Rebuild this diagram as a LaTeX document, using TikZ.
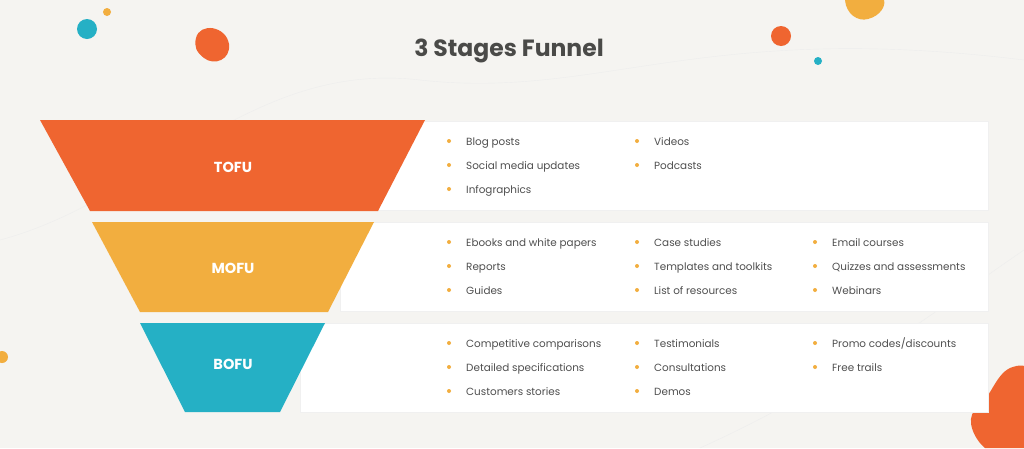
\documentclass[tikz,border=0pt]{standalone}
\usepackage{fontspec}
\setmainfont{Poppins}
\usetikzlibrary{positioning}
\definecolor{bgray}{HTML}{F5F4F1}
\definecolor{tofu}{HTML}{EF6530}
\definecolor{mofu}{HTML}{F2AE3F}
\definecolor{bofu}{HTML}{25B0C5}
\definecolor{titlegray}{HTML}{4A4A48}
\definecolor{txtgray}{HTML}{4F4F4F}
\tikzset{
    % panels and stages
    panel/.style={fill=white,draw=black!6},
    stage label/.style={font=\bfseries\fontsize{14.5}{16}\selectfont,text=white},
    % bullet lists
    bullet/.style={circle,fill=mofu,inner sep=0pt,minimum size=4pt},
    item/.style={anchor=base west,inner sep=0pt,font=\fontsize{10.4}{12}\selectfont,text=txtgray},
    blob/.style={fill=#1}
}
\newcommand{\listitem}[4]{% name, x, y, text
    \node[bullet] (#1b) at (#2,#3) {};
    \node[item] (#1) at (#2+17,#3+4) {#4};
}
\begin{document}
\begin{tikzpicture}[x=1pt,y=-1pt]
    \fill[bgray] (0,0) rectangle (1024,448);
    \useasboundingbox (0,0) rectangle (1024,448);
    % background lines
    \draw[black!7,thin] (0,240) .. controls (150,200) and (250,60) .. (420,80) .. controls (600,100) and (700,20) .. (1024,60);
    \draw[black!7,thin] (700,448) .. controls (850,380) and (950,300) .. (1024,250);
    % decorations
    \fill[bofu] (87,29) circle (10);
    \fill[mofu] (107,12) circle (4);
    \fill[tofu] (196,38) .. controls (200,22) and (226,26) .. (229,44) .. controls (231,60) and (214,66) .. (204,58) .. controls (196,52) and (194,46) .. (196,38) -- cycle;
    \fill[tofu] (781,36) circle (10);
    \fill[bofu] (818,61) circle (4);
    \fill[mofu] (845,0) .. controls (846,14) and (858,22) .. (868,19) .. controls (880,16) and (886,6) .. (884,0) -- cycle;
    \fill[mofu] (2,357) circle (6);
    \fill[tofu] (975,410) .. controls (990,400) and (995,375) .. (1010,368) .. controls (1020,364) and (1024,366) .. (1024,366) -- (1024,448) -- (985,448) .. controls (975,440) and (965,420) .. (975,410) -- cycle;
    % title
    \node[font=\bfseries\fontsize{23.5}{26}\selectfont,text=titlegray] (title) at (509,51) {3 Stages Funnel};
    % panels
    \fill[panel] (360,121) rectangle (988,210);
    \fill[panel] (340,222) rectangle (988,311);
    \fill[panel] (300,323) rectangle (988,412);
    % funnel stages
    \fill[tofu] (40,120) -- (425,120) -- (378,211) -- (90,211) -- cycle;
    \fill[mofu] (92,222) -- (374,222) -- (328,312) -- (140,312) -- cycle;
    \fill[bofu] (140,323) -- (325,323) -- (280,412) -- (185,412) -- cycle;
    \node[stage label] (tofu) at (233,167) {TOFU};
    \node[stage label] (mofu) at (233,268) {MOFU};
    \node[stage label] (bofu) at (233,364) {BOFU};
    % TOFU items
    \listitem{ta}{449}{141}{Blog posts}
    \listitem{tb}{449}{165}{Social media updates}
    \listitem{tc}{449}{189}{Infographics}
    \listitem{td}{637}{141}{Videos}
    \listitem{te}{637}{165}{Podcasts}
    % MOFU items
    \listitem{ma}{449}{242}{Ebooks and white papers}
    \listitem{mb}{449}{266}{Reports}
    \listitem{mc}{449}{290}{Guides}
    \listitem{md}{637}{242}{Case studies}
    \listitem{me}{637}{266}{Templates and toolkits}
    \listitem{mf}{637}{290}{List of resources}
    \listitem{mg}{815}{242}{Email courses}
    \listitem{mh}{815}{266}{Quizzes and assessments}
    \listitem{mi}{815}{290}{Webinars}
    % BOFU items
    \listitem{ba}{449}{343}{Competitive comparisons}
    \listitem{bb}{449}{367}{Detailed specifications}
    \listitem{bc}{449}{391}{Customers stories}
    \listitem{bd}{637}{343}{Testimonials}
    \listitem{be}{637}{367}{Consultations}
    \listitem{bf}{637}{391}{Demos}
    \listitem{bg}{815}{343}{Promo codes/discounts}
    \listitem{bh}{815}{367}{Free trails}
\end{tikzpicture}
\end{document}
